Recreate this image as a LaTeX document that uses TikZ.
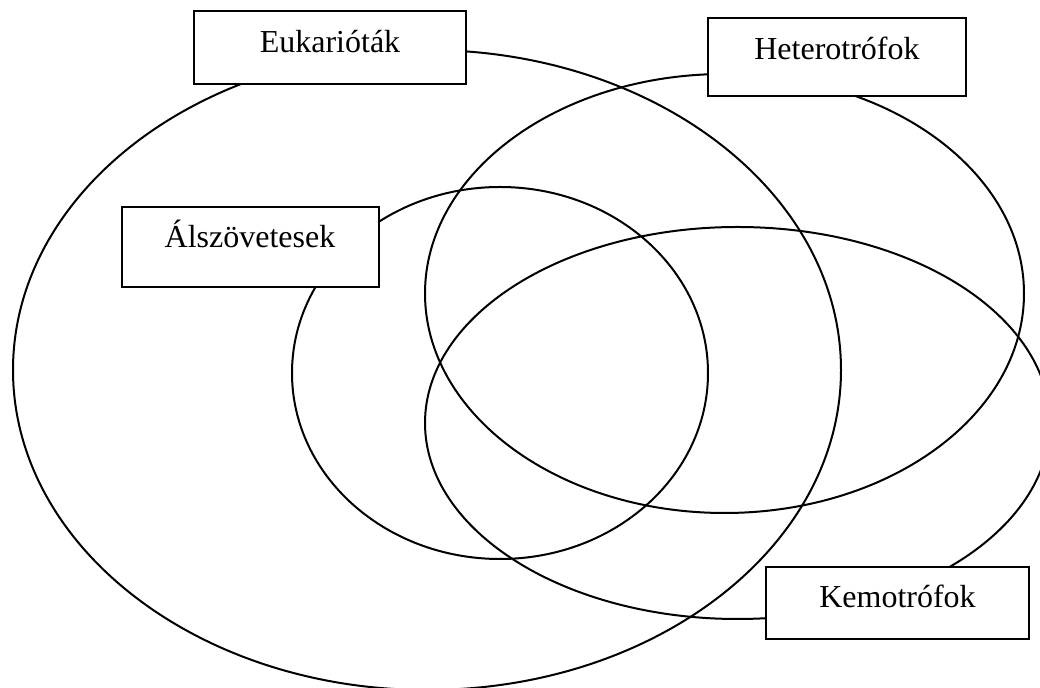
\documentclass[tikz,border=0pt]{standalone}
\usepackage{fontspec}
\setmainfont{Liberation Serif}

\begin{document}
\begin{tikzpicture}[x=0.5pt,y=-0.5pt,line width=1pt]

    \useasboundingbox (0,0) rectangle (1040,688);

    % halmazok
    \draw (427,370) ellipse [x radius=414, y radius=320];
    \draw (724.5,293.5) ellipse [x radius=299.5, y radius=219.5];
    \draw (500,373) ellipse [x radius=208, y radius=186];
    \draw (737.5,423) ellipse [x radius=312.5, y radius=196];

    \node[rectangle,
          draw,
          fill = white,
          minimum width = 136pt,
          minimum height = 36.5pt
          ] (euk) at (330,47.5) {};
    \node[anchor = base, inner sep = 0pt, font = \fontsize{16}{18}\selectfont] (eukl) at (330,53) {Eukarióták};

    \node[rectangle,
          draw,
          fill = white,
          minimum width = 129pt,
          minimum height = 39pt
          ] (het) at (837,57) {};
    \node[anchor = base, inner sep = 0pt, font = \fontsize{16}{18}\selectfont] (hetl) at (837,60) {Heterotrófok};

    \node[rectangle,
          draw,
          fill = white,
          minimum width = 128.5pt,
          minimum height = 40pt
          ] (alsz) at (250.5,247) {};
    \node[anchor = base, inner sep = 0pt, font = \fontsize{16}{18}\selectfont] (alszl) at (250,248) {Álszövetesek};

    \node[rectangle,
          draw,
          fill = white,
          minimum width = 131.5pt,
          minimum height = 36pt
          ] (kem) at (897.5,603) {};
    \node[anchor = base, inner sep = 0pt, font = \fontsize{16}{18}\selectfont] (keml) at (897.5,608) {Kemotrófok};

\end{tikzpicture}
\end{document}
